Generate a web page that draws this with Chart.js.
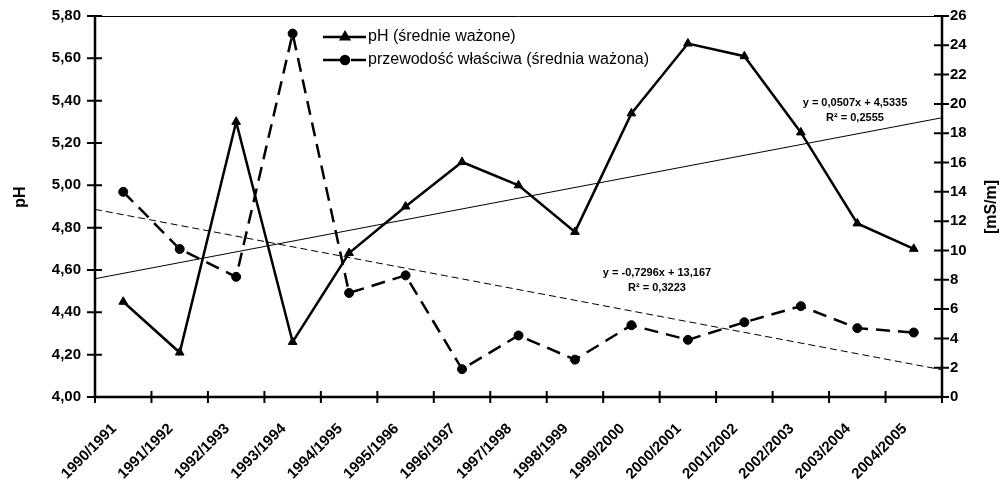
<!DOCTYPE html>
<html>
<head>
<meta charset="utf-8">
<script src="https://cdn.jsdelivr.net/npm/chart.js@4/dist/chart.umd.min.js"></script>
<style>
  html, body { margin: 0; padding: 0; background: #fff; }
  #wrap { width: 1002px; height: 482px; }
</style>
</head>
<body>
<div id="wrap"><canvas id="wykres" width="1002" height="482"></canvas></div>
<script>
// sezony hydrologiczne
var sezony = ['1990/1991', '1991/1992', '1992/1993', '1993/1994', '1994/1995',
  '1995/1996', '1996/1997', '1997/1998', '1998/1999', '1999/2000',
  '2000/2001', '2001/2002', '2002/2003', '2003/2004', '2004/2005'];

// pH - srednie wazone
var phWazone = [4.45, 4.21, 5.30, 4.26, 4.68, 4.90, 5.11, 5.00, 4.78, 5.34, 5.67, 5.61, 5.25, 4.82, 4.70];

// przewodnosc wlasciwa [mS/m]
var przewodnosc = [14.0, 10.1, 8.2, 24.8, 7.1, 8.3, 1.9, 4.2, 2.55, 4.9, 3.9, 5.1, 6.2, 4.7, 4.4];

// linie trendu: [a, b] dla y = a*x + b
var trendPh = [0.0507, 4.5335];
var trendPrzew = [-0.7296, 13.167];
var opisTrendPh = ['y = 0,0507x + 4,5335', 'R² = 0,2555'];
var opisTrendPrzew = ['y = -0,7296x + 13,167', 'R² = 0,3223'];

var osPh = [4.0, 5.8, 0.2];
var osPrzew = [0, 26, 2];

var FONT = "'Liberation Sans', Arial, sans-serif";

function liniaTrendu(t) {
    var x0 = 0.5, x1 = sezony.length + 0.5;
    return [{ x: x0, y: t[0] * x0 + t[1] }, { x: x1, y: t[0] * x1 + t[1] }];
}

function bezMarginesow(s) {
    s.paddingTop = 0; s.paddingBottom = 0;
    s.paddingLeft = 0; s.paddingRight = 0;
}

// osie, znaczniki, tytuly osi, legenda i opisy trendow
var dodatki = {
    id: 'dodatki',
    afterDraw: function(chart) {
        var ctx = chart.ctx;
        var a = chart.chartArea;
        var yL = chart.scales.y, yR = chart.scales.y2, xt = chart.scales.xt;
        ctx.save();
        ctx.strokeStyle = '#000';
        ctx.lineCap = 'butt';

        // ramka gorna
        ctx.lineWidth = 1;
        ctx.beginPath();
        ctx.moveTo(a.left, a.top + 0.5);
        ctx.lineTo(a.right, a.top + 0.5);
        ctx.stroke();

        // osie
        ctx.lineWidth = 2.5;
        ctx.beginPath();
        ctx.moveTo(a.left, a.top - 1); ctx.lineTo(a.left, a.bottom + 1);
        ctx.moveTo(a.right, a.top - 1); ctx.lineTo(a.right, a.bottom + 1);
        ctx.moveTo(a.left - 1, a.bottom); ctx.lineTo(a.right + 1, a.bottom);
        ctx.stroke();

        // znaczniki
        ctx.lineWidth = 2;
        ctx.beginPath();
        yL.ticks.forEach(function(t, i) {
            var p = yL.getPixelForTick(i);
            ctx.moveTo(a.left - 8, p); ctx.lineTo(a.left + 7, p);
        });
        yR.ticks.forEach(function(t, i) {
            var p = yR.getPixelForTick(i);
            ctx.moveTo(a.right - 8, p); ctx.lineTo(a.right + 7, p);
        });
        for (var i = 0; i <= sezony.length; i++) {
            var px = xt.getPixelForValue(i + 0.5);
            ctx.moveTo(px, a.bottom - 6); ctx.lineTo(px, a.bottom + 6);
        }
        ctx.stroke();

        // tytuly osi
        ctx.fillStyle = '#000';
        ctx.textAlign = 'center';
        ctx.textBaseline = 'middle';
        ctx.font = 'bold 16px ' + FONT;
        ctx.save();
        ctx.translate(21, 197);
        ctx.rotate(-Math.PI / 2);
        ctx.fillText('pH', 0, 0);
        ctx.restore();
        ctx.save();
        ctx.translate(992, 207);
        ctx.rotate(-Math.PI / 2);
        ctx.fillText('[mS/m]', 0, 0);
        ctx.restore();

        // opisy linii trendu
        ctx.font = 'bold 11px ' + FONT;
        ctx.fillText(opisTrendPh[0], 855, 103);
        ctx.fillText(opisTrendPh[1], 855, 118);
        ctx.fillText(opisTrendPrzew[0], 657, 273);
        ctx.fillText(opisTrendPrzew[1], 657, 288);

        // legenda
        var wpisy = [chart.data.datasets[0], chart.data.datasets[1]];
        ctx.font = '16px ' + FONT;
        ctx.textAlign = 'left';
        wpisy.forEach(function(ds, k) {
            var ly = 37 + k * 23;
            ctx.lineWidth = ds.borderWidth;
            ctx.setLineDash(ds.borderDash ? [18, 10] : []);
            ctx.beginPath();
            ctx.moveTo(323, ly); ctx.lineTo(366, ly);
            ctx.stroke();
            ctx.setLineDash([]);
            Chart.helpers.drawPoint(ctx, {
                pointStyle: ds.pointStyle, radius: ds.pointRadius - 0.5,
                rotation: 0, borderWidth: 1
            }, 345, ly);
            ctx.fill();
            ctx.fillText(ds.label, 368, ly);
        });
        ctx.restore();
    }
};

var tickFont = { family: FONT, size: 15, weight: 'bold' };

new Chart(document.getElementById('wykres'), {
    type: 'line',
    data: {
        labels: sezony,
        datasets: [
            {
                label: 'pH (średnie ważone)',
                data: phWazone,
                yAxisID: 'y', xAxisID: 'x',
                borderColor: '#000', backgroundColor: '#000',
                borderWidth: 2.5,
                pointStyle: 'triangle', pointRadius: 5,
                pointBackgroundColor: '#000', pointBorderColor: '#000', pointBorderWidth: 1,
                tension: 0, fill: false
            },
            {
                label: 'przewodość właściwa (średnia ważona)',
                data: przewodnosc,
                yAxisID: 'y2', xAxisID: 'x',
                borderColor: '#000', backgroundColor: '#000',
                borderWidth: 2.5, borderDash: [14, 8],
                pointStyle: 'circle', pointRadius: 4.5,
                pointBackgroundColor: '#000', pointBorderColor: '#000', pointBorderWidth: 1,
                tension: 0, fill: false
            },
            {
                label: 'trend pH',
                data: liniaTrendu(trendPh),
                yAxisID: 'y', xAxisID: 'xt',
                borderColor: '#000', borderWidth: 1,
                pointRadius: 0, fill: false
            },
            {
                label: 'trend przewodności',
                data: liniaTrendu(trendPrzew),
                yAxisID: 'y2', xAxisID: 'xt',
                borderColor: '#000', borderWidth: 1, borderDash: [7, 4],
                pointRadius: 0, fill: false
            }
        ]
    },
    options: {
        responsive: false,
        animation: false,
        layout: { padding: { top: 16 } },
        plugins: { legend: { display: false }, tooltip: { enabled: false } },
        scales: {
            x: {
                type: 'category',
                offset: true,
                grid: { display: false },
                border: { display: false },
                ticks: {
                    font: tickFont, color: '#000',
                    maxRotation: 45, minRotation: 45, autoSkip: false,
                    padding: 15, labelOffset: -9
                },
                afterFit: function(s) { s.height = 85; bezMarginesow(s); }
            },
            xt: {
                type: 'linear', display: false,
                min: 0.5, max: sezony.length + 0.5
            },
            y: {
                position: 'left',
                min: osPh[0], max: osPh[1],
                grid: { display: false },
                border: { display: false },
                ticks: {
                    stepSize: osPh[2], font: tickFont, color: '#000', padding: 6,
                    callback: function(v) { return v.toFixed(2).replace('.', ','); }
                },
                afterFit: function(s) { s.width = 95; bezMarginesow(s); }
            },
            y2: {
                position: 'right',
                min: osPrzew[0], max: osPrzew[1],
                grid: { display: false },
                border: { display: false },
                ticks: { stepSize: osPrzew[2], font: tickFont, color: '#000', padding: 0 },
                afterFit: function(s) { s.width = 60; bezMarginesow(s); }
            }
        }
    },
    plugins: [dodatki]
});
</script>
</body>
</html>
